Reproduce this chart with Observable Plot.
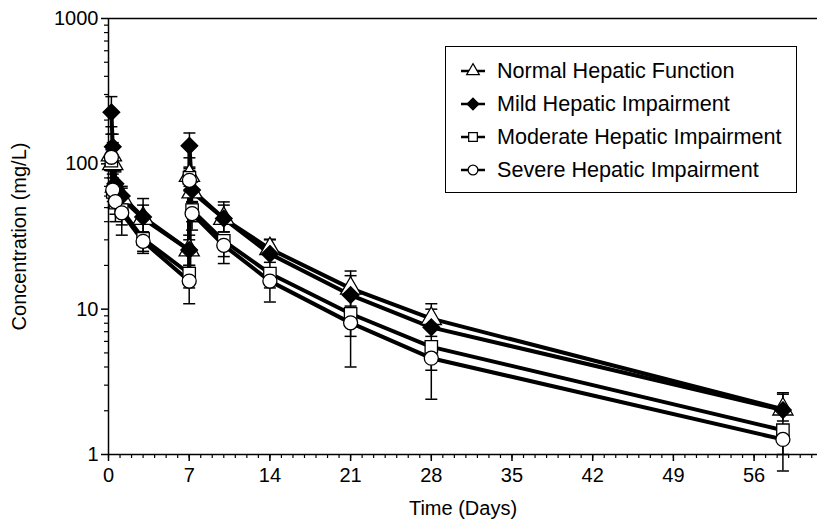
<!DOCTYPE html>
<html><head><meta charset="utf-8">
<script src="https://cdn.jsdelivr.net/npm/d3@7"></script>
<script src="https://cdn.jsdelivr.net/npm/@observablehq/plot@0.6"></script>
<style>
body{margin:0;background:#fff;}
#wrap{position:relative;width:817px;height:529px;font-family:"Liberation Sans",Arial,Helvetica,sans-serif;}
#legend{position:absolute;left:445px;top:46px;width:350px;height:145px;border:1.5px solid #000;background:#fff;}
.row{position:absolute;left:15px;height:30px;display:flex;align-items:center;font-size:21.6px;color:#000;white-space:nowrap;}
.row svg{margin-right:12px;overflow:visible}
</style></head><body><div id="wrap"></div>
<script>
// Sampling times (days)
const days = [0.25, 0.37, 0.6, 1.15, 3.0, 7.0, 7.02, 7.25, 10.0, 14.0, 21.0, 28.0, 58.5];

const seriesNames = ["Normal Hepatic Function", "Mild Hepatic Impairment", "Moderate Hepatic Impairment", "Severe Hepatic Impairment"];

// Mean concentrations (mg/L)
const normalMean   = [115, 100, 70, 58, 42, 25.5, 83, 64, 42, 26, 13.9, 8.6, 2.05];
const mildMean     = [226, 131, 73, 60, 43, 25.5, 133, 66, 42, 24, 12.5, 7.5, 2.02];
const moderateMean = [105, 64, 54, 48, 30.5, 17.6, 80, 48, 29.5, 17.6, 9.3, 5.5, 1.47];
const severeMean   = [111, 66, 55, 46, 29.3, 15.6, 77, 45.5, 27.5, 15.6, 8.05, 4.6, 1.27];

// Error bar upper / lower limits (mg/L)
const normalHi   = [160, 140, 88, 68, 52, 30, 95, 75, 52, 30, 18.3, 10.9, 2.66];
const normalLo   = [90, 80, 55, 48, 34, 20, 70, 54, 34, 21, 10.5, 6.5, 1.5];
const mildHi     = [290, 160, 90, 70, 57.7, 32.3, 163, 78, 54.7, 30.3, 17, 10, 2.6];
const mildLo     = [180, 110, 62, 52, 34, 20, 110, 55, 34, 19, 10, 6, 1.7];
const moderateHi = [130, 85, 62, 55, 33, 19, 93, 52, 32, 19, 10, 6, 1.6];
const moderateLo = [90, 55, 45, 38, 25, 14, 65, 40, 23, 14, 6.5, 3.8, 1.0];
const severeHi   = [125, 72, 58, 52, 31, 17, 90, 50, 30, 17, 9, 5.2, 1.5];
const severeLo   = [90, 50, 40, 32.3, 24.2, 10.9, 60, 35, 20.6, 11.2, 4.0, 2.4, 0.77];

// Axis ticks
const xTicks = [0, 7, 14, 21, 28, 35, 42, 49, 56];
const yTicks = [1, 10, 100, 1000];

const series = [
  {name: seriesNames[0], mean: normalMean, hi: normalHi, lo: normalLo, symbol: "triangle", fill: "white", r: 7.5},
  {name: seriesNames[1], mean: mildMean, hi: mildHi, lo: mildLo, symbol: "diamond2", fill: "black", r: 7.5},
  {name: seriesNames[2], mean: moderateMean, hi: moderateHi, lo: moderateLo, symbol: "square", fill: "white", r: 7},
  {name: seriesNames[3], mean: severeMean, hi: severeHi, lo: severeLo, symbol: "circle", fill: "white", r: 7}
];

const rows = [];
series.forEach(s => s.mean.forEach((v, i) => rows.push({group: s.name, t: days[i], v, lo: s.lo[i], hi: s.hi[i]})));

const xMinor = d3.range(0, 62, 1);
const yMinor = [];
for (const dec of [1, 10, 100]) for (let k = 2; k <= 9; k++) yMinor.push(dec * k);

const capSym = {draw(ctx) { ctx.moveTo(-6, 0); ctx.lineTo(6, 0); }};

const marks = [
  Plot.ruleY([1000], {stroke: "black", strokeWidth: 1.5}),
  Plot.ruleY([1], {stroke: "black", strokeWidth: 1.5}),
  Plot.ruleX([0], {stroke: "black", strokeWidth: 1.5}),
  Plot.axisX({ticks: xTicks, tickSize: 7, tickPadding: 6, tickFormat: d => String(d), fontSize: 20,
    label: "Time (Days)", labelAnchor: "center", labelOffset: 60, labelArrow: false, strokeWidth: 1.5}),
  Plot.axisX({ticks: xMinor, tickSize: 4, tickFormat: () => "", label: null, strokeWidth: 1.2}),
  Plot.axisY({ticks: yTicks, tickSize: 7, tickPadding: 3, tickFormat: d => String(d), fontSize: 20,
    label: "Concentration (mg/L)", labelAnchor: "center", labelOffset: 97, labelArrow: false, strokeWidth: 1.5}),
  Plot.axisY({ticks: yMinor, tickSize: 4, tickFormat: () => "", label: null, strokeWidth: 1.2}),
  Plot.line(rows, {x: "t", y: "v", z: "group", stroke: "black", strokeWidth: 4}),
  Plot.ruleX(rows, {x: "t", y1: "lo", y2: "hi", stroke: "black", strokeWidth: 1.5}),
  Plot.dot(rows, {x: "t", y: "hi", symbol: capSym, stroke: "black", strokeWidth: 1.5, fill: "none"}),
  Plot.dot(rows, {x: "t", y: "lo", symbol: capSym, stroke: "black", strokeWidth: 1.5, fill: "none"}),
  ...series.map(s => Plot.dot(rows.filter(d => d.group === s.name), {x: "t", y: "v", symbol: s.symbol, r: s.r, fill: s.fill, stroke: "black", strokeWidth: 1.3}))
];

const chart = Plot.plot({
  width: 817, height: 529,
  marginLeft: 108, marginRight: 0, marginTop: 18, marginBottom: 75,
  x: {domain: [0, 61.5], axis: null},
  y: {type: "log", domain: [1, 1000], axis: null},
  style: {fontFamily: '"Liberation Sans", Arial, Helvetica, sans-serif', fontSize: "20px", color: "black", background: "white", overflow: "visible"},
  marks
});
document.getElementById("wrap").appendChild(chart);

// Legend
const legend = document.createElement("div");
legend.id = "legend";
const rowTops = [9, 42, 75, 108];
series.forEach((s, i) => {
  const row = document.createElement("div");
  row.className = "row";
  row.style.top = rowTops[i] + "px";
  const svg = d3.create("svg").attr("width", 24).attr("height", 20);
  svg.append("line").attr("x1", 0).attr("x2", 24).attr("y1", 10).attr("y2", 10).attr("stroke", "black").attr("stroke-width", 2.5);
  const sym = {triangle: d3.symbolTriangle, diamond2: d3.symbolDiamond2, square: d3.symbolSquare, circle: d3.symbolCircle}[s.symbol];
  const size = s.symbol === "diamond2" ? 90 : s.symbol === "triangle" ? 70 : 75;
  svg.append("path").attr("d", d3.symbol(sym, size)()).attr("transform", "translate(12,10)")
    .attr("fill", s.fill).attr("stroke", "black").attr("stroke-width", 1.2);
  row.appendChild(svg.node());
  const span = document.createElement("span");
  span.textContent = s.name;
  row.appendChild(span);
  legend.appendChild(row);
});
document.getElementById("wrap").appendChild(legend);
</script>
</body></html>
